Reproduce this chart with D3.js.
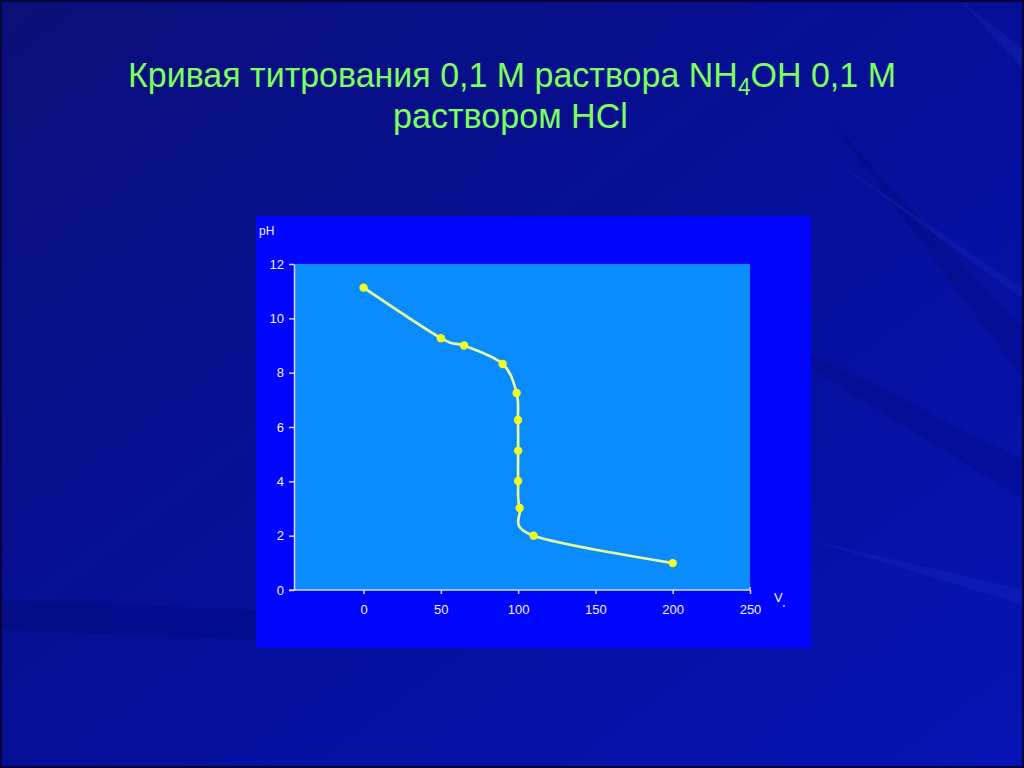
<!DOCTYPE html>
<html><head><meta charset="utf-8">
<script src="https://cdn.jsdelivr.net/npm/d3@7"></script>
<style>html,body{margin:0;padding:0;background:#0a1478;}svg{display:block;}</style>
</head><body>
<svg id="c" width="1024" height="768"></svg>
<script>
// data
const volume = [0, 50, 65, 90, 99, 99.9, 100, 100, 101, 110, 200];
const pH     = [11.13, 9.27, 9.0, 8.32, 7.25, 6.26, 5.13, 4.01, 3.02, 2.0, 0.99];
const xTicks = [0, 50, 100, 150, 200, 250];
const yTicks = [0, 2, 4, 6, 8, 10, 12];
const xDomain = [-45, 250];
const yDomain = [0, 12];
const titleLine1a = "Кривая титрования 0,1 М раствора NH";
const titleSub = "4";
const titleLine1b = "OH 0,1 М";
const titleLine2 = "раствором HCl";

const svg = d3.select("#c");
const defs = svg.append("defs");
const g1 = defs.append("linearGradient").attr("id","bg").attr("x1","0").attr("y1","0").attr("x2","1").attr("y2","1");
g1.append("stop").attr("offset","0").attr("stop-color","#0a0f78");
g1.append("stop").attr("offset","0.5").attr("stop-color","#060f98");
g1.append("stop").attr("offset","1").attr("stop-color","#0614b4");
svg.append("rect").attr("width",1024).attr("height",768).attr("fill","url(#bg)");

// faint streaks
const darkStreaks = [
  [[830,120],[1024,330],[1024,380]],
  [[700,300],[1024,460],[1024,500]],
  [[0,600],[260,610],[260,640],[0,630]]
];
svg.append("g").selectAll("path").data(darkStreaks).join("path")
  .attr("d", d => "M"+d.map(p=>p.join(",")).join("L")+"Z")
  .attr("fill","#000060").attr("opacity",0.18);
const lightStreaks = [
  [[810,540],[1024,590],[1024,605]],
  [[960,0],[1024,70],[1024,50]],
  [[820,150],[1024,300],[1024,290]]
];
svg.append("g").selectAll("path").data(lightStreaks).join("path")
  .attr("d", d => "M"+d.map(p=>p.join(",")).join("L")+"Z")
  .attr("fill","#2a3ed8").attr("opacity",0.2);
svg.append("rect").attr("x",1).attr("y",1).attr("width",1022).attr("height",766)
  .attr("fill","none").attr("stroke","#02043a").attr("stroke-width",2);

// title
const tFont = "'Liberation Sans', Arial, sans-serif";
function titleLine(parts, cx, cy, targetW){
  const g = svg.append("g").attr("font-family",tFont).attr("fill","#7cff5c");
  const els = parts.map(p => g.append("text").attr("font-size",p.size).attr("y",p.dy).text(p.text));
  const widths = els.map(e => e.node().getComputedTextLength());
  const total = d3.sum(widths);
  let cur = -total/2;
  els.forEach((e,i)=>{ e.attr("x",cur); cur += widths[i]; });
  g.attr("transform",`translate(${cx},${cy}) scale(${targetW/total},1)`);
}
titleLine([{text:titleLine1a,size:36,dy:0},{text:titleSub,size:24,dy:8},{text:titleLine1b,size:36,dy:0}],512,87,768);
titleLine([{text:titleLine2,size:36,dy:0}],510.5,128,235);

// chart panel
svg.append("rect").attr("x",256).attr("y",216).attr("width",555).attr("height",432).attr("fill","#0005fb");

const x = d3.scaleLinear().domain(xDomain).range([294, 750]);
const y = d3.scaleLinear().domain(yDomain).range([590, 264]);

svg.append("rect").attr("x",x(xDomain[0])).attr("y",y(yDomain[1]))
  .attr("width",x(xDomain[1])-x(xDomain[0])).attr("height",y(yDomain[0])-y(yDomain[1]))
  .attr("fill","#0a8cff");

const axisColor = "#d8d8e8";
const fontFam = "'Liberation Sans', Arial, sans-serif";

const yAx = svg.append("g").attr("transform",`translate(${x(xDomain[0])},0)`)
  .call(d3.axisLeft(y).tickValues(yTicks).tickSize(5).tickSizeOuter(0).tickPadding(5));
const xAx = svg.append("g").attr("transform",`translate(0,${y(0)})`)
  .call(d3.axisBottom(x).tickValues(xTicks).tickSize(4).tickSizeOuter(0).tickPadding(11));
[yAx,xAx].forEach(a=>{
  a.selectAll("path,line").attr("stroke",axisColor).attr("stroke-width",1.5);
  a.selectAll("text").attr("fill","#f0f0ff").attr("font-size",13).attr("font-family",fontFam);
});
xAx.select(".domain").attr("d",`M${x(xDomain[0])-5},0H${x(xDomain[1])}V-3`);

svg.append("text").attr("x",259).attr("y",235).attr("font-size",12).attr("font-family",fontFam)
  .attr("fill","#f0f0ff").text("pH");
svg.append("text").attr("x",774).attr("y",602).attr("font-size",13).attr("font-family",fontFam)
  .attr("fill","#f0f0ff").text("V");
svg.append("circle").attr("cx",784).attr("cy",606).attr("r",0.9).attr("fill","#f0f0ff");

const pts = volume.map((v,i)=>[v,pH[i]]);
const line = d3.line().x(d=>x(d[0])).y(d=>y(d[1])).curve(d3.curveCardinal.tension(0));
svg.append("path").attr("d",line(pts)).attr("fill","none").attr("stroke","#e6ff9a").attr("stroke-width",2.6);
svg.append("g").selectAll("circle").data(pts).join("circle")
  .attr("cx",d=>x(d[0])).attr("cy",d=>y(d[1])).attr("r",4.2)
  .attr("fill","#f2ff1e");
</script>
</body></html>
